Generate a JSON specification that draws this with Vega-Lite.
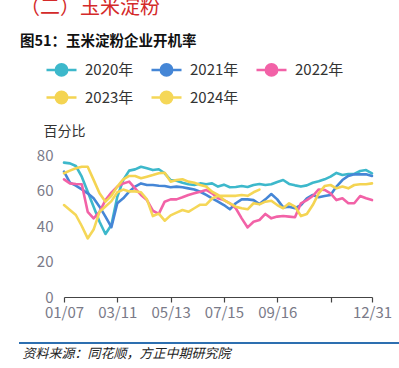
{
  "$schema": "https://vega.github.io/schema/vega-lite/v6.json",
  "autosize": "none",
  "width": 308,
  "height": 142,
  "padding": {"left": 64, "top": 155, "right": 27, "bottom": 71},
  "background": "white",
  "config": {
    "font": "Noto Sans CJK SC",
    "view": {"stroke": null}
  },
  "title": {
    "text": "（二）玉米淀粉",
    "subtitle": "图51：玉米淀粉企业开机率",
    "anchor": "start",
    "frame": "group",
    "dx": -44,
    "offset": 5,
    "color": "#D42A2A",
    "fontSize": 20,
    "fontWeight": "normal",
    "subtitleColor": "#111111",
    "subtitleFontSize": 14.5,
    "subtitleFontWeight": "bold",
    "subtitlePadding": 17
  },
  "data": {
    "values": [
      {"d": "01/07", "2020年": 75.7, "2021年": 70.6, "2022年": 66.3, "2023年": 69.7, "2024年": 51.8},
      {"d": "01/14", "2020年": 75.3, "2021年": 64.4, "2022年": 64.0, "2023年": 71.2, "2024年": 49.0},
      {"d": "01/21", "2020年": 73.8, "2021年": 62.7, "2022年": 63.7, "2023年": 72.5, "2024年": 46.2},
      {"d": "01/28", "2020年": 67.8, "2021年": 60.6, "2022年": 63.5, "2023年": 73.4, "2024年": 40.0},
      {"d": "02/04", "2020年": 59.3, "2021年": 58.4, "2022年": 48.0, "2023年": 73.4, "2024年": 33.0},
      {"d": "02/11", "2020年": 50.9, "2021年": 55.6, "2022年": 44.3, "2023年": 66.0, "2024年": 38.0},
      {"d": "02/18", "2020年": 42.4, "2021年": 50.9, "2022年": 48.0, "2023年": 58.4, "2024年": 48.0},
      {"d": "02/25", "2020年": 35.5, "2021年": 45.3, "2022年": 54.6, "2023年": 53.7, "2024年": 51.0},
      {"d": "03/04", "2020年": 40.6, "2021年": 39.3, "2022年": 58.8, "2023年": 57.0, "2024年": 54.0},
      {"d": "03/11", "2020年": 56.5, "2021年": 52.8, "2022年": 62.2, "2023年": 62.2, "2024年": 59.0},
      {"d": "03/18", "2020年": 65.9, "2021年": 55.6, "2022年": 64.0, "2023年": 66.3, "2024年": 60.5},
      {"d": "03/25", "2020年": 71.2, "2021年": 59.3, "2022年": 65.0, "2023年": 68.2, "2024年": 59.5},
      {"d": "04/01", "2020年": 71.9, "2021年": 62.2, "2022年": 61.2, "2023年": 68.2, "2024年": 59.5},
      {"d": "04/08", "2020年": 73.4, "2021年": 64.0, "2022年": 57.5, "2023年": 66.9, "2024年": 59.0},
      {"d": "04/15", "2020年": 72.5, "2021年": 63.1, "2022年": 54.6, "2023年": 67.8, "2024年": 55.0},
      {"d": "04/22", "2020年": 71.5, "2021年": 63.1, "2022年": 48.6, "2023年": 68.7, "2024年": 45.6},
      {"d": "04/29", "2020年": 72.0, "2021年": 62.7, "2022年": 46.8, "2023年": 69.7, "2024年": 47.0},
      {"d": "05/06", "2020年": 69.7, "2021年": 62.5, "2022年": 53.7, "2023年": 70.0, "2024年": 43.0},
      {"d": "05/13", "2020年": 65.9, "2021年": 61.8, "2022年": 55.0, "2023年": 65.0, "2024年": 46.0},
      {"d": "05/20", "2020年": 65.5, "2021年": 62.2, "2022年": 55.0, "2023年": 65.9, "2024年": 47.5},
      {"d": "05/27", "2020年": 64.4, "2021年": 61.8, "2022年": 56.2, "2023年": 66.3, "2024年": 49.0},
      {"d": "06/03", "2020年": 63.5, "2021年": 61.2, "2022年": 57.5, "2023年": 65.0, "2024年": 48.0},
      {"d": "06/10", "2020年": 63.1, "2021年": 60.6, "2022年": 58.4, "2023年": 64.4, "2024年": 50.0},
      {"d": "06/17", "2020年": 64.0, "2021年": 59.3, "2022年": 59.3, "2023年": 63.1, "2024年": 52.0},
      {"d": "06/24", "2020年": 63.5, "2021年": 57.5, "2022年": 60.3, "2023年": 62.2, "2024年": 52.0},
      {"d": "07/01", "2020年": 64.0, "2021年": 55.6, "2022年": 58.4, "2023年": 59.3, "2024年": 55.5},
      {"d": "07/08", "2020年": 62.2, "2021年": 53.7, "2022年": 55.6, "2023年": 57.5, "2024年": 57.0},
      {"d": "07/15", "2020年": 63.3, "2021年": 51.8, "2022年": 54.6, "2023年": 54.6, "2024年": 57.0},
      {"d": "07/22", "2020年": 61.8, "2021年": 49.4, "2022年": 52.8, "2023年": 52.8, "2024年": 57.0},
      {"d": "07/29", "2020年": 62.0, "2021年": 52.8, "2022年": 50.0, "2023年": 50.9, "2024年": 57.0},
      {"d": "08/05", "2020年": 62.5, "2021年": 55.0, "2022年": 44.3, "2023年": 50.0, "2024年": 57.5},
      {"d": "08/12", "2020年": 62.0, "2021年": 55.0, "2022年": 39.2, "2023年": 49.4, "2024年": 57.0},
      {"d": "08/19", "2020年": 63.1, "2021年": 54.6, "2022年": 42.4, "2023年": 52.8, "2024年": 59.0},
      {"d": "08/26", "2020年": 63.7, "2021年": 52.4, "2022年": 43.4, "2023年": 52.2, "2024年": 60.5},
      {"d": "09/02", "2020年": 63.1, "2021年": 55.0, "2022年": 46.8, "2023年": 53.7, "2024年": null},
      {"d": "09/09", "2020年": 63.5, "2021年": 58.0, "2022年": 44.3, "2023年": 54.2, "2024年": null},
      {"d": "09/16", "2020年": 64.8, "2021年": 55.0, "2022年": 45.3, "2023年": 51.8, "2024年": null},
      {"d": "09/23", "2020年": 65.9, "2021年": 50.5, "2022年": 45.6, "2023年": 50.0, "2024年": null},
      {"d": "09/30", "2020年": 63.7, "2021年": 50.9, "2022年": 45.3, "2023年": 52.8, "2024年": null},
      {"d": "10/07", "2020年": 62.9, "2021年": 50.0, "2022年": 44.9, "2023年": 50.9, "2024年": null},
      {"d": "10/14", "2020年": 62.2, "2021年": 51.8, "2022年": 52.8, "2023年": 45.6, "2024年": null},
      {"d": "10/21", "2020年": 62.9, "2021年": 55.6, "2022年": 54.6, "2023年": 46.8, "2024年": null},
      {"d": "10/28", "2020年": 64.4, "2021年": 57.5, "2022年": 56.9, "2023年": 51.8, "2024年": null},
      {"d": "11/04", "2020年": 65.2, "2021年": 56.2, "2022年": 60.6, "2023年": 58.4, "2024年": null},
      {"d": "11/11", "2020年": 66.3, "2021年": 56.9, "2022年": 60.3, "2023年": 62.5, "2024年": null},
      {"d": "11/18", "2020年": 67.8, "2021年": 57.5, "2022年": 58.4, "2023年": 63.1, "2024年": null},
      {"d": "11/25", "2020年": 69.9, "2021年": 62.2, "2022年": 54.6, "2023年": 61.2, "2024年": null},
      {"d": "12/02", "2020年": 68.7, "2021年": 65.9, "2022年": 55.6, "2023年": 62.2, "2024年": null},
      {"d": "12/09", "2020年": 69.3, "2021年": 68.2, "2022年": 52.8, "2023年": 61.2, "2024年": null},
      {"d": "12/16", "2020年": 69.3, "2021年": 69.1, "2022年": 52.8, "2023年": 63.1, "2024年": null},
      {"d": "12/23", "2020年": 71.0, "2021年": 69.1, "2022年": 56.9, "2023年": 63.5, "2024年": null},
      {"d": "12/30", "2020年": 71.5, "2021年": 69.1, "2022年": 55.6, "2023年": 63.5, "2024年": null},
      {"d": "12/31", "2020年": 69.7, "2021年": 68.2, "2022年": 54.6, "2023年": 64.0, "2024年": null}
    ]
  },
  "layer": [
    {
      "transform": [
        {"fold": ["2020年", "2021年", "2022年", "2023年", "2024年"], "as": ["year", "v"]}
      ],
      "mark": {"type": "line", "strokeWidth": 2.6, "strokeJoin": "round", "strokeCap": "round"},
      "encoding": {
        "x": {
          "field": "d",
          "type": "ordinal",
          "sort": null,
          "scale": {"type": "point", "padding": 0},
          "axis": {
            "values": ["01/07", "03/11", "05/13", "07/15", "09/16", "11/18", "12/31"],
            "labelExpr": "datum.value == '11/18' ? '' : datum.value",
            "labelAngle": 0,
            "labelFontSize": 15,
            "labelColor": "#7a7a88",
            "labelPadding": 3,
            "domainColor": "#444444",
            "domainWidth": 1.2,
            "tickColor": "#444444",
            "tickSize": 5,
            "tickWidth": 1.2,
            "grid": false,
            "title": "资料来源：同花顺，方正中期研究院",
            "titleX": -42,
            "titleY": 56,
            "titleAlign": "left",
            "titleAnchor": null,
            "titleBaseline": "middle",
            "titleFontSize": 13,
            "titleFontWeight": "normal",
            "titleFontStyle": "italic",
            "titleColor": "#222222"
          }
        },
        "y": {
          "field": "v",
          "type": "quantitative",
          "scale": {"domain": [0, 80], "nice": false},
          "axis": {
            "values": [0, 20, 40, 60, 80],
            "domain": false,
            "ticks": false,
            "grid": false,
            "labelFontSize": 15,
            "labelColor": "#7a7a88",
            "labelPadding": 11,
            "title": "百分比",
            "titleAngle": 0,
            "titleX": -21,
            "titleY": -24,
            "titleAlign": "left",
            "titleBaseline": "middle",
            "titleFontSize": 14,
            "titleFontWeight": "normal",
            "titleColor": "#333333"
          }
        },
        "color": {
          "field": "year",
          "type": "nominal",
          "scale": {
            "domain": ["2020年", "2021年", "2022年", "2023年", "2024年"],
            "range": ["#3DB8CB", "#4586D6", "#F262A7", "#F4D452", "#F5D758"]
          },
          "legend": {
            "title": null,
            "orient": "none",
            "direction": "horizontal",
            "legendX": -19,
            "legendY": -102,
            "columns": 3,
            "columnPadding": 12,
            "rowPadding": -3,
            "padding": 0,
            "symbolType": "M-1,0H1M0.38,0A0.38,0.38,0,1,1,-0.38,0A0.38,0.38,0,1,1,0.38,0Z",
            "symbolSize": 900,
            "symbolStrokeWidth": 2.5,
            "labelFontSize": 15,
            "labelColor": "#333333",
            "labelOffset": 7,
            "encode": {
              "symbols": {"update": {"fill": {"scale": "color", "field": "value"}, "fillOpacity": {"value": 1}}}
            }
          }
        }
      }
    },
    {
      "mark": {"type": "rule", "color": "#2E6FB0", "strokeWidth": 1.5},
      "encoding": {
        "x": {"value": -45},
        "x2": {"value": 340},
        "y": {"value": 188}
      }
    }
  ]
}
